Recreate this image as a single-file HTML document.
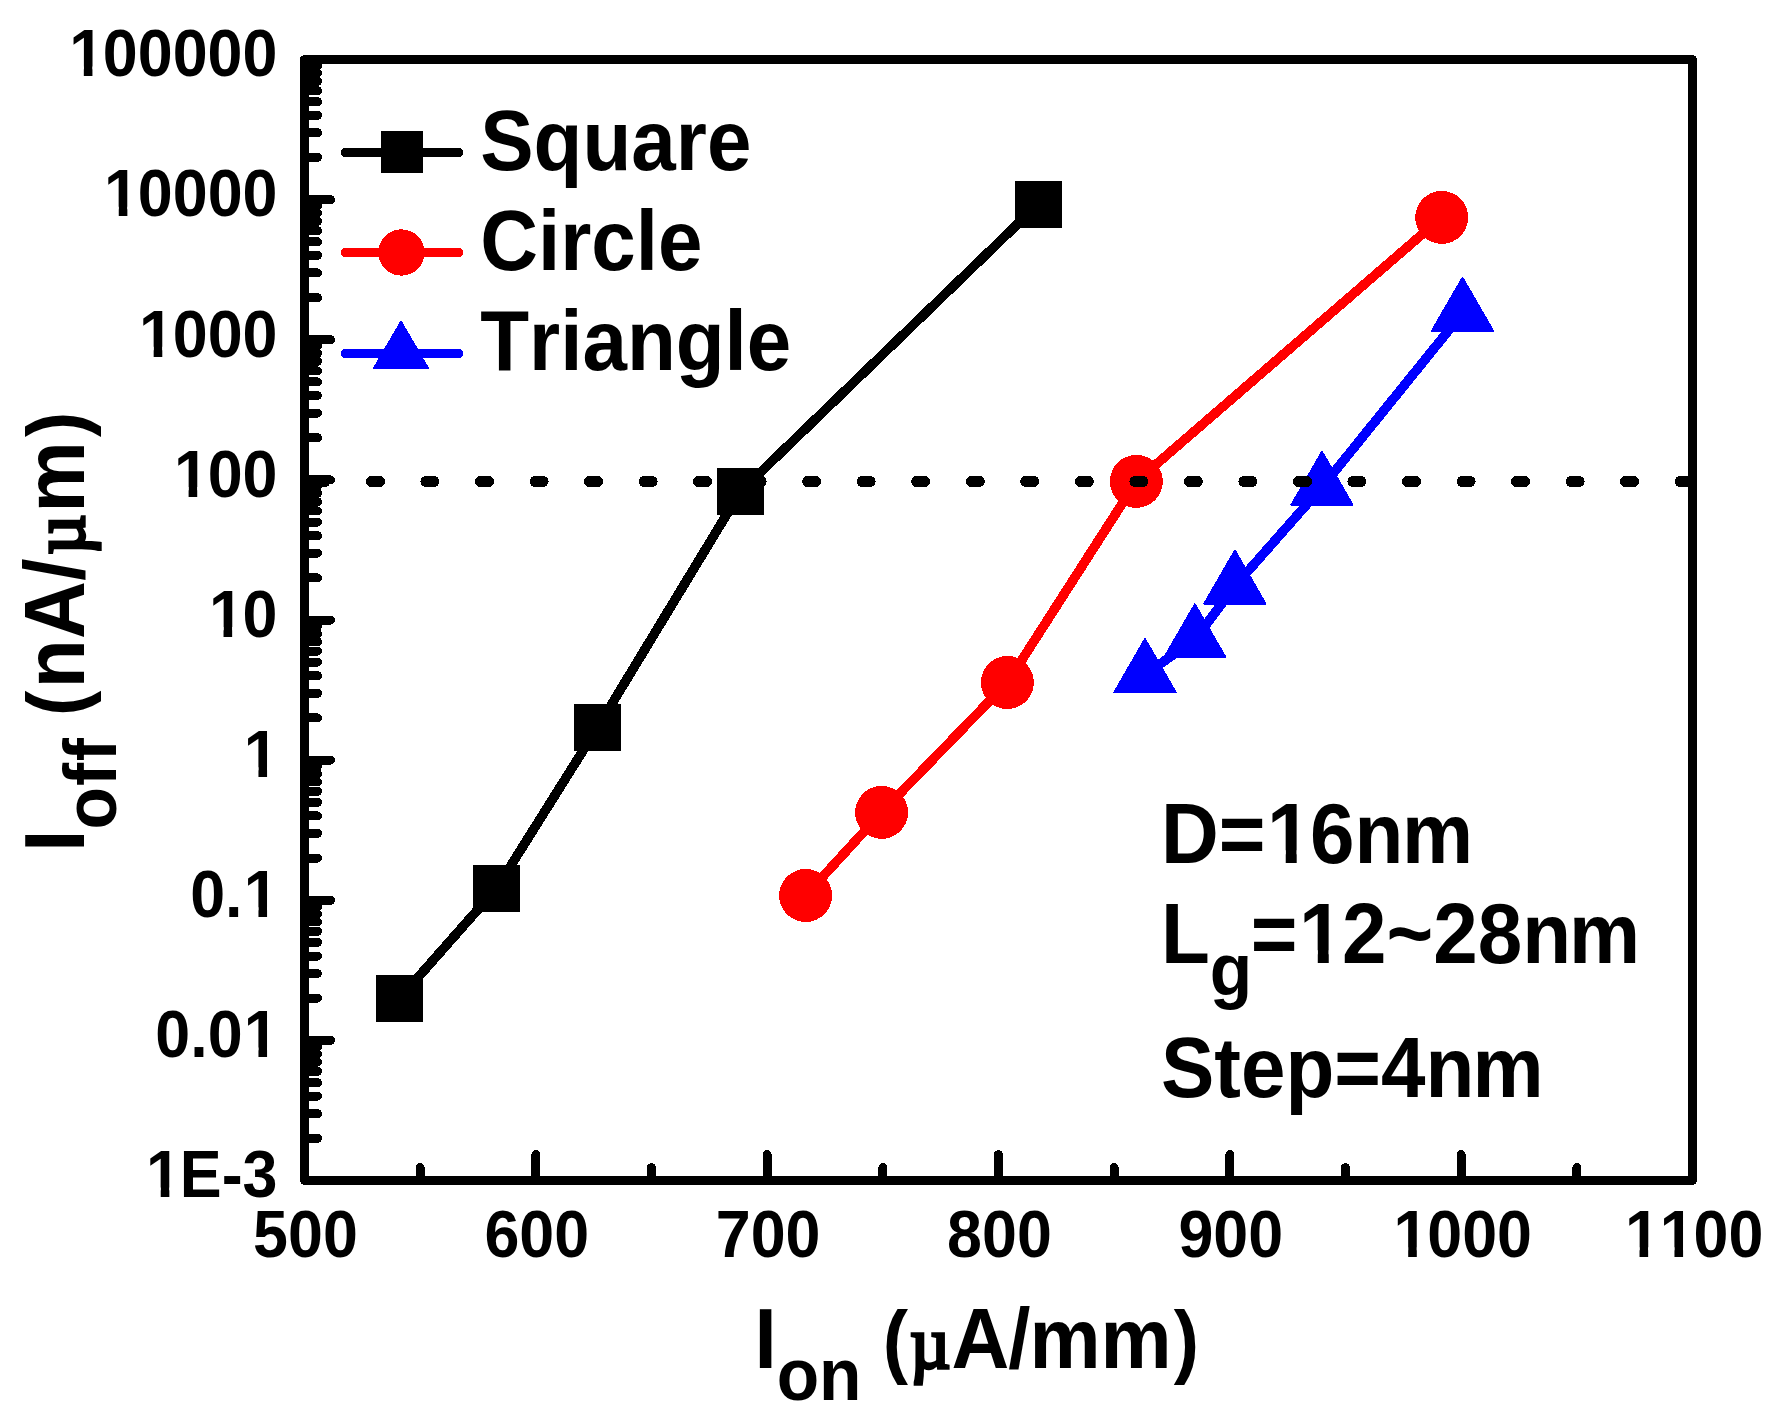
<!DOCTYPE html>
<html lang="en"><head><meta charset="utf-8"><title>Ioff vs Ion</title>
<style>
html,body{margin:0;padding:0;background:#fff;}
body{width:1771px;height:1420px;overflow:hidden;}
svg{display:block;}
text{font-family:"Liberation Sans",Arial,Helvetica,sans-serif;font-weight:bold;fill:#000;font-kerning:none;}
.mu{font-family:"Liberation Serif","Times New Roman",serif;font-weight:normal;}
</style></head><body>
<svg width="1771" height="1420" viewBox="0 0 1771 1420" shape-rendering="crispEdges">
<defs>
<clipPath id="k1" clipPathUnits="userSpaceOnUse"><path clip-rule="evenodd" d="M-2500,-400H3000V400H-2500ZM109.18,-11.68H124.73V1.56H109.18ZM135.70,-11.68H150.20V1.56H135.70Z"/></clipPath>
<clipPath id="k2" clipPathUnits="userSpaceOnUse"><path clip-rule="evenodd" d="M-2500,-400H3000V400H-2500ZM141.23,-11.68H156.77V1.56H141.23ZM167.75,-11.68H182.24V1.56H167.75Z"/></clipPath>
<clipPath id="k3" clipPathUnits="userSpaceOnUse"><path clip-rule="evenodd" d="M-2500,-400H3000V400H-2500ZM3.68,-9.17H15.88V1.23H3.68ZM24.50,-9.17H35.88V1.23H24.50Z"/></clipPath>
<clipPath id="k4" clipPathUnits="userSpaceOnUse"><path clip-rule="evenodd" d="M-2500,-400H3000V400H-2500ZM3.68,-9.17H15.88V1.23H3.68ZM24.50,-9.17H35.88V1.23H24.50Z"/></clipPath>
<clipPath id="k5" clipPathUnits="userSpaceOnUse"><path clip-rule="evenodd" d="M-2500,-400H3000V400H-2500ZM3.68,-9.17H15.88V1.23H3.68ZM24.50,-9.17H35.88V1.23H24.50Z"/></clipPath>
<clipPath id="k6" clipPathUnits="userSpaceOnUse"><path clip-rule="evenodd" d="M-2500,-400H3000V400H-2500ZM3.68,-9.17H15.88V1.23H3.68ZM24.50,-9.17H35.88V1.23H24.50Z"/></clipPath>
<clipPath id="k7" clipPathUnits="userSpaceOnUse"><path clip-rule="evenodd" d="M-2500,-400H3000V400H-2500ZM3.68,-9.17H15.88V1.23H3.68ZM24.50,-9.17H35.88V1.23H24.50Z"/></clipPath>
<clipPath id="k8" clipPathUnits="userSpaceOnUse"><path clip-rule="evenodd" d="M-2500,-400H3000V400H-2500ZM3.68,-9.17H15.88V1.23H3.68ZM24.50,-9.17H35.88V1.23H24.50Z"/></clipPath>
<clipPath id="k9" clipPathUnits="userSpaceOnUse"><path clip-rule="evenodd" d="M-2500,-400H3000V400H-2500ZM56.05,-9.17H68.26V1.23H56.05ZM76.87,-9.17H88.25V1.23H76.87Z"/></clipPath>
<clipPath id="k10" clipPathUnits="userSpaceOnUse"><path clip-rule="evenodd" d="M-2500,-400H3000V400H-2500ZM90.98,-9.17H103.18V1.23H90.98ZM111.80,-9.17H123.18V1.23H111.80Z"/></clipPath>
<clipPath id="k11" clipPathUnits="userSpaceOnUse"><path clip-rule="evenodd" d="M-2500,-400H3000V400H-2500ZM3.68,-9.17H15.88V1.23H3.68ZM24.50,-9.17H35.88V1.23H24.50Z"/></clipPath>
<clipPath id="k12" clipPathUnits="userSpaceOnUse"><path clip-rule="evenodd" d="M-2500,-400H3000V400H-2500ZM3.68,-9.17H15.88V1.23H3.68ZM24.50,-9.17H35.88V1.23H24.50Z"/></clipPath>
<clipPath id="k13" clipPathUnits="userSpaceOnUse"><path clip-rule="evenodd" d="M-2500,-400H3000V400H-2500ZM3.68,-9.17H15.88V1.23H3.68ZM24.50,-9.17H35.88V1.23H24.50ZM38.61,-9.17H50.81V1.23H38.61ZM59.43,-9.17H70.80V1.23H59.43Z"/></clipPath>
</defs>
<rect x="0" y="0" width="1771" height="1420" fill="#fff"/>
<g id="series-square">
<polyline points="399.5,998.4 496.5,888.4 597.6,727.4 740.6,491.5 1038.0,204.4" fill="none" stroke="#000" stroke-width="9.5" stroke-linejoin="round"/>
<rect x="376.0" y="974.9" width="47" height="47" fill="#000"/>
<rect x="473.0" y="864.9" width="47" height="47" fill="#000"/>
<rect x="574.1" y="703.9" width="47" height="47" fill="#000"/>
<rect x="717.1" y="468.0" width="47" height="47" fill="#000"/>
<rect x="1014.5" y="180.9" width="47" height="47" fill="#000"/>
</g>
<g id="series-circle">
<polyline points="805.6,895.5 881.6,812.4 1007.4,682.5 1136.4,481.4 1441.7,217.4" fill="none" stroke="#ff0000" stroke-width="9.5" stroke-linejoin="round"/>
<circle cx="805.6" cy="895.5" r="26.5" fill="#ff0000"/>
<circle cx="881.6" cy="812.4" r="26.5" fill="#ff0000"/>
<circle cx="1007.4" cy="682.5" r="26.5" fill="#ff0000"/>
<circle cx="1136.4" cy="481.4" r="26.5" fill="#ff0000"/>
<circle cx="1441.7" cy="217.4" r="26.5" fill="#ff0000"/>
</g>
<g id="series-triangle">
<polyline points="1145.0,674.5 1194.9,639.7 1234.9,586.0 1322.0,487.2 1462.5,313.2" fill="none" stroke="#0000ff" stroke-width="9.5" stroke-linejoin="round"/>
<polygon points="1145.0,639.2 1175.6,692.2 1114.4,692.2" fill="#0000ff" stroke="#0000ff" stroke-width="2" stroke-linejoin="round"/>
<polygon points="1194.9,604.4 1225.5,657.4 1164.3,657.4" fill="#0000ff" stroke="#0000ff" stroke-width="2" stroke-linejoin="round"/>
<polygon points="1234.9,550.7 1265.5,603.7 1204.3,603.7" fill="#0000ff" stroke="#0000ff" stroke-width="2" stroke-linejoin="round"/>
<polygon points="1322.0,451.9 1352.6,504.9 1291.4,504.9" fill="#0000ff" stroke="#0000ff" stroke-width="2" stroke-linejoin="round"/>
<polygon points="1462.5,277.9 1493.1,330.9 1431.9,330.9" fill="#0000ff" stroke="#0000ff" stroke-width="2" stroke-linejoin="round"/>
</g>
<line x1="316.9" y1="481.5" x2="1692.5" y2="481.5" stroke="#000" stroke-width="11" stroke-linecap="round" stroke-dasharray="8 46.53"/>
<g id="legend">
<line x1="345.5" y1="152.5" x2="458.7" y2="152.5" stroke="#000" stroke-width="9.5" stroke-linecap="round"/>
<rect x="381" y="131.2" width="41.5" height="41.5" fill="#000"/>
<line x1="345.5" y1="252.7" x2="458.7" y2="252.7" stroke="#ff0000" stroke-width="9.5" stroke-linecap="round"/>
<circle cx="401.4" cy="252.5" r="23.2" fill="#ff0000"/>
<line x1="345.5" y1="353.4" x2="458.7" y2="353.4" stroke="#0000ff" stroke-width="9.5" stroke-linecap="round"/>
<polygon points="401.0,321.8 428.1,368.4 373.9,368.4" fill="#0000ff" stroke="#0000ff" stroke-width="2" stroke-linejoin="round"/>
<text transform="translate(480.20,169.60) scale(1,1.065)" font-size="80.0">Square</text>
<text transform="translate(480.20,269.70) scale(1,1.065)" font-size="80.0">Circle</text>
<text transform="translate(480.20,369.50) scale(1,1.065)" font-size="80.0">Triangle</text>
</g>
<g id="annotation">
<text transform="translate(1161,862.8) scale(1,1.065)" font-size="80.0" clip-path="url(#k1)">D=<tspan dx="1.56">1</tspan><tspan dx="-1.56">6n</tspan><tspan dx="-1.2">m</tspan></text>
<text transform="translate(1161,962.6) scale(1,1.065)" font-size="80.0" clip-path="url(#k2)">L<tspan font-size="69.5" dy="30.05">g</tspan><tspan dy="-30.05"><tspan dx="-1.50">=</tspan><tspan dx="1.56">1</tspan><tspan dx="-1.56">2~28n</tspan><tspan dx="-2">m</tspan></tspan></text>
<text transform="translate(1161,1097) scale(1,1.065)" font-size="80.0">Step=4n<tspan dx="-2">m</tspan></text>
</g>
<g id="axes" stroke="#000" stroke-width="9" stroke-linecap="round" fill="none">
<line x1="304.5" y1="1138.32" x2="317.5" y2="1138.32"/>
<line x1="304.5" y1="1113.64" x2="317.5" y2="1113.64"/>
<line x1="304.5" y1="1096.14" x2="317.5" y2="1096.14"/>
<line x1="304.5" y1="1082.56" x2="317.5" y2="1082.56"/>
<line x1="304.5" y1="1071.46" x2="317.5" y2="1071.46"/>
<line x1="304.5" y1="1062.08" x2="317.5" y2="1062.08"/>
<line x1="304.5" y1="1053.95" x2="317.5" y2="1053.95"/>
<line x1="304.5" y1="1046.79" x2="317.5" y2="1046.79"/>
<line x1="304.5" y1="1040.38" x2="330.5" y2="1040.38"/>
<line x1="304.5" y1="998.19" x2="317.5" y2="998.19"/>
<line x1="304.5" y1="973.52" x2="317.5" y2="973.52"/>
<line x1="304.5" y1="956.01" x2="317.5" y2="956.01"/>
<line x1="304.5" y1="942.43" x2="317.5" y2="942.43"/>
<line x1="304.5" y1="931.34" x2="317.5" y2="931.34"/>
<line x1="304.5" y1="921.96" x2="317.5" y2="921.96"/>
<line x1="304.5" y1="913.83" x2="317.5" y2="913.83"/>
<line x1="304.5" y1="906.66" x2="317.5" y2="906.66"/>
<line x1="304.5" y1="900.25" x2="330.5" y2="900.25"/>
<line x1="304.5" y1="858.07" x2="317.5" y2="858.07"/>
<line x1="304.5" y1="833.39" x2="317.5" y2="833.39"/>
<line x1="304.5" y1="815.89" x2="317.5" y2="815.89"/>
<line x1="304.5" y1="802.31" x2="317.5" y2="802.31"/>
<line x1="304.5" y1="791.21" x2="317.5" y2="791.21"/>
<line x1="304.5" y1="781.83" x2="317.5" y2="781.83"/>
<line x1="304.5" y1="773.70" x2="317.5" y2="773.70"/>
<line x1="304.5" y1="766.54" x2="317.5" y2="766.54"/>
<line x1="304.5" y1="760.12" x2="330.5" y2="760.12"/>
<line x1="304.5" y1="717.94" x2="317.5" y2="717.94"/>
<line x1="304.5" y1="693.27" x2="317.5" y2="693.27"/>
<line x1="304.5" y1="675.76" x2="317.5" y2="675.76"/>
<line x1="304.5" y1="662.18" x2="317.5" y2="662.18"/>
<line x1="304.5" y1="651.09" x2="317.5" y2="651.09"/>
<line x1="304.5" y1="641.71" x2="317.5" y2="641.71"/>
<line x1="304.5" y1="633.58" x2="317.5" y2="633.58"/>
<line x1="304.5" y1="626.41" x2="317.5" y2="626.41"/>
<line x1="304.5" y1="620.00" x2="330.5" y2="620.00"/>
<line x1="304.5" y1="577.82" x2="317.5" y2="577.82"/>
<line x1="304.5" y1="553.14" x2="317.5" y2="553.14"/>
<line x1="304.5" y1="535.64" x2="317.5" y2="535.64"/>
<line x1="304.5" y1="522.06" x2="317.5" y2="522.06"/>
<line x1="304.5" y1="510.96" x2="317.5" y2="510.96"/>
<line x1="304.5" y1="501.58" x2="317.5" y2="501.58"/>
<line x1="304.5" y1="493.45" x2="317.5" y2="493.45"/>
<line x1="304.5" y1="486.29" x2="317.5" y2="486.29"/>
<line x1="304.5" y1="479.88" x2="330.5" y2="479.88"/>
<line x1="304.5" y1="437.69" x2="317.5" y2="437.69"/>
<line x1="304.5" y1="413.02" x2="317.5" y2="413.02"/>
<line x1="304.5" y1="395.51" x2="317.5" y2="395.51"/>
<line x1="304.5" y1="381.93" x2="317.5" y2="381.93"/>
<line x1="304.5" y1="370.84" x2="317.5" y2="370.84"/>
<line x1="304.5" y1="361.46" x2="317.5" y2="361.46"/>
<line x1="304.5" y1="353.33" x2="317.5" y2="353.33"/>
<line x1="304.5" y1="346.16" x2="317.5" y2="346.16"/>
<line x1="304.5" y1="339.75" x2="330.5" y2="339.75"/>
<line x1="304.5" y1="297.57" x2="317.5" y2="297.57"/>
<line x1="304.5" y1="272.89" x2="317.5" y2="272.89"/>
<line x1="304.5" y1="255.39" x2="317.5" y2="255.39"/>
<line x1="304.5" y1="241.81" x2="317.5" y2="241.81"/>
<line x1="304.5" y1="230.71" x2="317.5" y2="230.71"/>
<line x1="304.5" y1="221.33" x2="317.5" y2="221.33"/>
<line x1="304.5" y1="213.20" x2="317.5" y2="213.20"/>
<line x1="304.5" y1="206.04" x2="317.5" y2="206.04"/>
<line x1="304.5" y1="199.62" x2="330.5" y2="199.62"/>
<line x1="304.5" y1="157.44" x2="317.5" y2="157.44"/>
<line x1="304.5" y1="132.77" x2="317.5" y2="132.77"/>
<line x1="304.5" y1="115.26" x2="317.5" y2="115.26"/>
<line x1="304.5" y1="101.68" x2="317.5" y2="101.68"/>
<line x1="304.5" y1="90.59" x2="317.5" y2="90.59"/>
<line x1="304.5" y1="81.21" x2="317.5" y2="81.21"/>
<line x1="304.5" y1="73.08" x2="317.5" y2="73.08"/>
<line x1="304.5" y1="65.91" x2="317.5" y2="65.91"/>
<line x1="420.17" y1="1180.5" x2="420.17" y2="1167.5"/>
<line x1="535.83" y1="1180.5" x2="535.83" y2="1154.5"/>
<line x1="651.50" y1="1180.5" x2="651.50" y2="1167.5"/>
<line x1="767.17" y1="1180.5" x2="767.17" y2="1154.5"/>
<line x1="882.83" y1="1180.5" x2="882.83" y2="1167.5"/>
<line x1="998.50" y1="1180.5" x2="998.50" y2="1154.5"/>
<line x1="1114.17" y1="1180.5" x2="1114.17" y2="1167.5"/>
<line x1="1229.83" y1="1180.5" x2="1229.83" y2="1154.5"/>
<line x1="1345.50" y1="1180.5" x2="1345.50" y2="1167.5"/>
<line x1="1461.17" y1="1180.5" x2="1461.17" y2="1154.5"/>
<line x1="1576.83" y1="1180.5" x2="1576.83" y2="1167.5"/>
<rect x="304.5" y="59.5" width="1388.0" height="1121.0" stroke-linejoin="round"/>
</g>
<g id="ticklabels">
<text transform="translate(67.94,76.30) scale(1,1.065)" font-size="62.8" clip-path="url(#k3)"><tspan dx="1.23">1</tspan><tspan dx="-1.23">00000</tspan></text>
<text transform="translate(102.87,216.43) scale(1,1.065)" font-size="62.8" clip-path="url(#k4)"><tspan dx="1.23">1</tspan><tspan dx="-1.23">0000</tspan></text>
<text transform="translate(137.79,356.55) scale(1,1.065)" font-size="62.8" clip-path="url(#k5)"><tspan dx="1.23">1</tspan><tspan dx="-1.23">000</tspan></text>
<text transform="translate(172.72,496.68) scale(1,1.065)" font-size="62.8" clip-path="url(#k6)"><tspan dx="1.23">1</tspan><tspan dx="-1.23">00</tspan></text>
<text transform="translate(207.65,636.80) scale(1,1.065)" font-size="62.8" clip-path="url(#k7)"><tspan dx="1.23">1</tspan><tspan dx="-1.23">0</tspan></text>
<text transform="translate(242.57,776.92) scale(1,1.065)" font-size="62.8" clip-path="url(#k8)"><tspan dx="1.23">1</tspan></text>
<text transform="translate(190.20,917.05) scale(1,1.065)" font-size="62.8" clip-path="url(#k9)">0.<tspan dx="1.23">1</tspan></text>
<text transform="translate(155.27,1057.17) scale(1,1.065)" font-size="62.8" clip-path="url(#k10)">0.0<tspan dx="1.23">1</tspan></text>
<text transform="translate(144.85,1197.30) scale(1,1.065)" font-size="62.8" clip-path="url(#k11)"><tspan dx="1.23">1</tspan><tspan dx="-1.23">E-3</tspan></text>
<text transform="translate(253.11,1257.00) scale(1,1.065)" font-size="62.8">500</text>
<text transform="translate(484.44,1257.00) scale(1,1.065)" font-size="62.8">600</text>
<text transform="translate(715.78,1257.00) scale(1,1.065)" font-size="62.8">700</text>
<text transform="translate(947.11,1257.00) scale(1,1.065)" font-size="62.8">800</text>
<text transform="translate(1178.44,1257.00) scale(1,1.065)" font-size="62.8">900</text>
<text transform="translate(1392.31,1257.00) scale(1,1.065)" font-size="62.8" clip-path="url(#k12)"><tspan dx="1.23">1</tspan><tspan dx="-1.23">000</tspan></text>
<text transform="translate(1623.65,1257.00) scale(1,1.065)" font-size="62.8" clip-path="url(#k13)"><tspan dx="1.23">1</tspan>1<tspan dx="-1.23">00</tspan></text>
</g>
<g id="titles">
<text transform="translate(0,1368) scale(1,1.065)" font-size="80.0"><tspan x="754.4">I</tspan><tspan font-size="69.5" dy="30.05">on</tspan><tspan dy="-30.05" dx="-1"> <tspan font-size="76">(</tspan></tspan><tspan class="mu" font-size="70.0" stroke="#000" stroke-width="3.2" x="910.0">µ</tspan><tspan x="951.4">A</tspan><tspan dx="-1">/</tspan><tspan dx="-1">mm</tspan><tspan dx="2" font-size="76">)</tspan></text>
<text transform="translate(83.7,851.7) rotate(-90) scale(1,1.065)" font-size="80.0"><tspan x="0">I</tspan><tspan font-size="69.5" dy="30.05">o<tspan dx="1">f</tspan><tspan dx="1.5">f</tspan></tspan><tspan dy="-30.05" dx="0"> <tspan font-size="76">(</tspan></tspan><tspan x="163.5">n</tspan><tspan x="212.8">A</tspan><tspan x="271">/</tspan><tspan class="mu" font-size="70.0" stroke="#000" stroke-width="3.2" x="296.9">µ</tspan><tspan x="339.1">m</tspan><tspan x="414.6" font-size="76">)</tspan></text>
</g>
</svg>
</body></html>
